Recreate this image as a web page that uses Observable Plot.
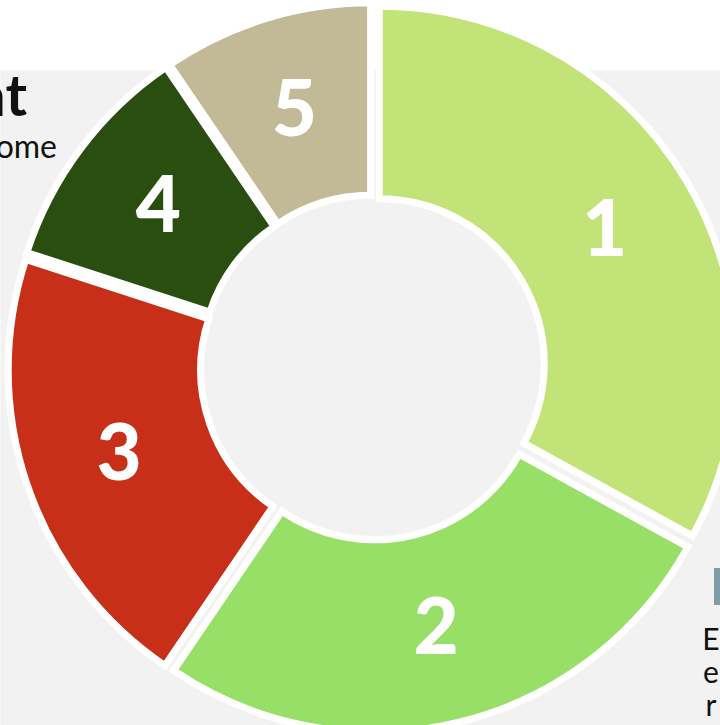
<!DOCTYPE html>
<html>
<head>
<meta charset="utf-8">
<script src="https://cdn.jsdelivr.net/npm/d3@7"></script>
<script src="https://cdn.jsdelivr.net/npm/@observablehq/plot@0.6"></script>
<style>
  html, body { margin: 0; padding: 0; background: #ffffff; }
  body { width: 720px; height: 725px; overflow: hidden; position: relative; }
  #chart { position: absolute; left: 0; top: 0; }
</style>
</head>
<body>
<div id="chart"></div>
<script>
// ---- data ----
const labels = ["1", "2", "3", "4", "5"];
const values = [33, 26.5, 20.5, 10.5, 9.5];
const colors = ["#c1e377", "#97df67", "#c72f19", "#2a4e10", "#c2b996"];

// ---- layout (pixels) ----
const W = 720, H = 725;
const cx = 372.8, cy = 367.5;   // donut centre
const R = 357.5;                // outer radius
const innerFrac = 165 / R;      // inner radius / outer radius
const explode = 7.5 / R;        // slice offset along bisector (unit radius)

const pie = d3.pie().sort(null).value(d => d.value);
const slices = pie(labels.map((l, i) => ({label: l, value: values[i], color: colors[i]})))
  .map(a => {
    const mid = (a.startAngle + a.endAngle) / 2;
    const rl = explode + (1 + innerFrac) / 2;
    return {
      ...a.data,
      startAngle: a.startAngle,
      endAngle: a.endAngle,
      ox: explode * Math.sin(mid),
      oy: -explode * Math.cos(mid),
      lx: rl * Math.sin(mid),
      ly: -rl * Math.cos(mid)
    };
  });

// custom render mark for donut arcs, positioned through Plot's x/y scales
const arcMark = (index, scales) => {
  const k = scales.x(1) - scales.x(0);
  const arc = d3.arc().innerRadius(innerFrac * k).outerRadius(k);
  const g = d3.create("svg:g");
  g.selectAll("path").data(slices).join("path")
    .attr("transform", d => `translate(${scales.x(d.ox)},${scales.y(d.oy)})`)
    .attr("d", d => arc(d))
    .attr("fill", d => d.color)
    .attr("stroke", "#ffffff")
    .attr("stroke-width", 7)
    .attr("stroke-linejoin", "miter");
  return g.node();
};

const svg = Plot.plot({
  width: W,
  height: H,
  marginTop: 70,
  marginLeft: 0,
  marginRight: 0,
  marginBottom: 0,
  x: {domain: [-1, 1], range: [cx - R, cx + R], axis: null},
  y: {domain: [-1, 1], range: [cy - R, cy + R], axis: null},
  style: {background: "transparent", overflow: "visible"},
  marks: [
    Plot.frame({fill: "#f2f2f2", stroke: null}),
    arcMark,
    Plot.text(slices, {
      x: "lx", y: "ly", text: "label",
      fill: "#ffffff", fontSize: 78, fontWeight: 900,
      fontFamily: "Lato, 'Open Sans', sans-serif"
    })
  ]
});

// cropped surrounding text fragments of the original composition
const s = d3.select(svg);
s.append("text").attr("x", 27).attr("y", 116).attr("text-anchor", "end")
  .attr("font-family", "Lato, 'Open Sans', sans-serif").attr("font-weight", "bold")
  .attr("font-size", 58).attr("fill", "#111111").text("nt");
s.append("text").attr("x", 57).attr("y", 158).attr("text-anchor", "end")
  .attr("font-family", "Lato, 'Open Sans', sans-serif")
  .attr("font-size", 32).attr("fill", "#111111").text("ome");
s.append("rect").attr("x", 714).attr("y", 568).attr("width", 10).attr("height", 37)
  .attr("fill", "#7f9ba6");
["E", "e", "r"].forEach((t, i) => {
  s.append("text").attr("x", 711).attr("y", 650 + i * 33)
    .attr("font-family", "Lato, 'Open Sans', sans-serif")
    .attr("font-size", 30).attr("fill", "#111111").text(t);
});

document.getElementById("chart").appendChild(svg);
</script>
</body>
</html>
